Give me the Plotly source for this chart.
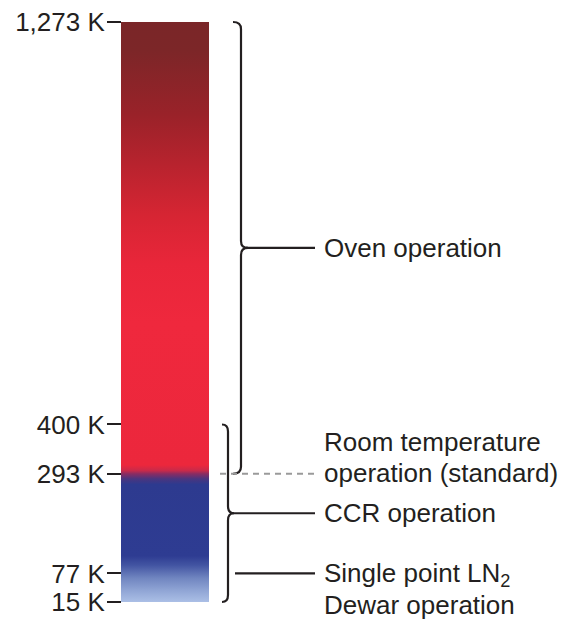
import plotly.graph_objects as go

# ---- data ----
tick_vals = [15, 77, 293, 400, 1273]
tick_text = ["15 K", "77 K", "293 K", "400 K", "1,273 K"]
t_min, t_max = 15, 1273
oven_range = (293, 1273)
ccr_range = (15, 400)
room_temp = 293
ln2_temp = 77
# gradient colour stops (temperature K, colour)
grad_temps = [15, 40, 67, 95, 115, 270, 282, 293, 300, 312, 620, 746, 854, 963, 1071, 1212, 1273]
grad_colors = ["#abbfe6", "#90a5d5", "#7085c0", "#4254a2", "#2e3c92", "#2d3a8f", "#4a357f",
               "#8a2c62", "#c82a4a", "#ec273c", "#ef283d", "#e9263a", "#d62533", "#b8232e",
               "#9a2229", "#7c2628", "#7a2628"]
oven_label = ["Oven operation"]
room_label = ["Room temperature", "operation (standard)"]
ccr_label = ["CCR operation"]
ln2_label = ["Single point LN<sub>2</sub>", "Dewar operation"]

# ---- layout constants ----
W, H = 576, 622
Y_RANGE = [-28.4, 1320.7]
PX_PER_K = H / (Y_RANGE[1] - Y_RANGE[0])
BAR_X0, BAR_X1 = 121, 209
INK = "#231f20"
FONT = "Liberation Sans, Arial, sans-serif"
FS = 26
LINE_GAP = 31

def k(px):
    return px / PX_PER_K

fig = go.Figure()

span = t_max - t_min
cscale = [[(t - t_min) / span, c] for t, c in zip(grad_temps, grad_colors)]
fig.add_trace(go.Scatter(
    x=[BAR_X0, BAR_X1, BAR_X1, BAR_X0, BAR_X0],
    y=[t_min, t_min, t_max, t_max, t_min],
    mode="lines", line=dict(width=0), fill="toself",
    fillgradient=dict(type="vertical", colorscale=cscale, start=t_min, stop=t_max),
    hoverinfo="skip", showlegend=False,
))

def brace_path(x_tip, x_line, x_cusp, y_top, y_bot, r_px=7):
    r = k(r_px)
    ym = (y_top + y_bot) / 2
    return (f"M{x_tip},{y_top} Q{x_line},{y_top} {x_line},{y_top - r} "
            f"L{x_line},{ym + r} Q{x_line},{ym} {x_cusp},{ym} "
            f"Q{x_line},{ym} {x_line},{ym - r} "
            f"L{x_line},{y_bot + r} Q{x_line},{y_bot} {x_tip},{y_bot}")

oven_mid = sum(oven_range) / 2
ccr_mid = sum(ccr_range) / 2

shapes = []
# oven brace
shapes.append(dict(type="path", xref="x", yref="y",
                   path=brace_path(233, 241, 248, oven_range[1], oven_range[0]),
                   line=dict(color=INK, width=2.2)))
shapes.append(dict(type="line", xref="x", yref="y", x0=246, x1=315,
                   y0=oven_mid, y1=oven_mid, line=dict(color=INK, width=2.2)))
# CCR brace
shapes.append(dict(type="path", xref="x", yref="y",
                   path=brace_path(222, 228, 234, ccr_range[1], ccr_range[0]),
                   line=dict(color=INK, width=2.2)))
shapes.append(dict(type="line", xref="x", yref="y", x0=232, x1=315,
                   y0=ccr_mid, y1=ccr_mid, line=dict(color=INK, width=2.2)))
# LN2 line
shapes.append(dict(type="line", xref="x", yref="y", x0=235, x1=315,
                   y0=ln2_temp, y1=ln2_temp, line=dict(color=INK, width=2.2)))
# room temperature dashed
shapes.append(dict(type="line", xref="x", yref="y", x0=220, x1=316,
                   y0=room_temp, y1=room_temp,
                   line=dict(color="#9a9a9a", width=2, dash="6px,5px")))

TX = 322
def label_lines(lines, y, first_shift):
    out = []
    for i, t in enumerate(lines):
        out.append(dict(x=TX, y=y, text=t, yshift=first_shift - i * LINE_GAP))
    return out

ann = []
ann += label_lines(oven_label, oven_mid, 0)
ann += label_lines(room_label, room_temp, LINE_GAP + 1)
ann += label_lines(ccr_label, ccr_mid, 0)
ann += label_lines(ln2_label, ln2_temp, -1)
annotations = [dict(a, xref="x", yref="y", xanchor="left", yanchor="middle",
                    showarrow=False, align="left",
                    font=dict(family=FONT, size=FS, color=INK)) for a in ann]

fig.update_layout(
    width=W, height=H, margin=dict(l=0, r=0, t=0, b=0),
    paper_bgcolor="white", plot_bgcolor="white",
    xaxis=dict(range=[0, W], visible=False, fixedrange=True),
    yaxis=dict(range=Y_RANGE, anchor="free", position=BAR_X0 / W,
               tickvals=tick_vals, ticktext=tick_text,
               ticks="outside", ticklen=14, tickwidth=2, tickcolor=INK,
               ticklabelstandoff=-3,
               showgrid=False, zeroline=False, showline=False,
               tickfont=dict(family=FONT, size=FS, color=INK), fixedrange=True),
    shapes=shapes, annotations=annotations, showlegend=False,
)

fig.write_html("out.html", config={"displayModeBar": False},
               post_script="document.body.style.margin='0';")
